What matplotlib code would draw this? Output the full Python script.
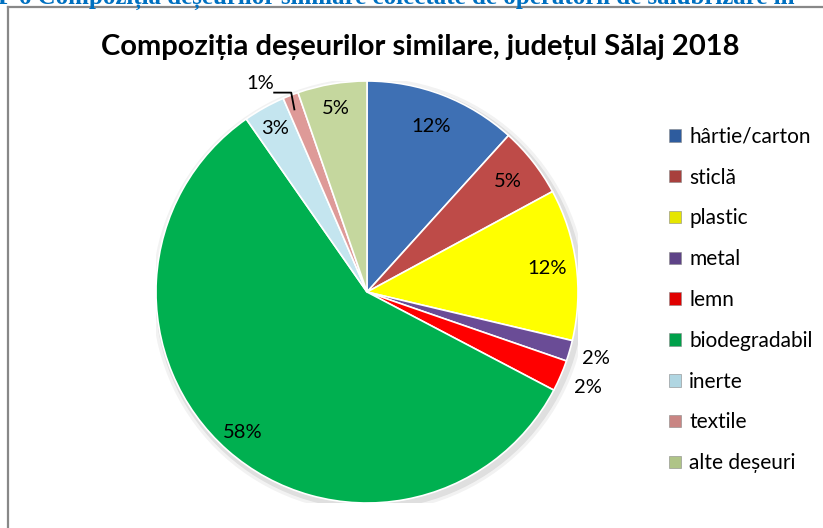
import numpy as np
import matplotlib
matplotlib.use('Agg')
import matplotlib.pyplot as plt
from matplotlib.lines import Line2D

plt.rcParams['font.family'] = ['Lato', 'DejaVu Sans']

# data
categories = ['hârtie/carton', 'sticlă', 'plastic', 'metal', 'lemn',
              'biodegradabil', 'inerte', 'textile', 'alte deșeuri']
shares = [11.7, 5.4, 11.6, 1.6, 2.4, 57.6, 3.2, 1.2, 5.3]
colors = ['#3E70B4', '#BE4B48', '#FFFF00', '#6A4C96', '#FF0000',
          '#00B050', '#C4E5EF', '#DE9A98', '#C5D79E']
legend_colors = ['#2E5C9E', '#A8403D', '#E6E600', '#5E4387', '#E00000',
                 '#00A04A', '#B0D6E2', '#C98583', '#AFC487']

W, H = 823, 528
fig = plt.figure(figsize=(W / 100, H / 100), dpi=100)

# frame (left and top border of the chart object)
fig.add_artist(Line2D([8 / W, 8 / W], [0, 1 - 7 / H], color='#888888', lw=1.6))
fig.add_artist(Line2D([8 / W, 1], [1 - 7 / H, 1 - 7 / H], color='#888888', lw=1.6))

# caption cut off at the top of the crop
fig.text(-2 / W, 1 - 4 / H,
         'F 6 Compoziția deșeurilor similare colectate de operatorii de salubrizare în',
         fontsize=18, fontweight='bold', color='#0070C0', family='Liberation Serif',
         ha='left', va='baseline')

fig.text(420 / W, 1 - 47 / H, 'Compoziția deșeurilor similare, județul Sălaj 2018',
         fontsize=21, fontweight='bold', ha='center', va='center', color='black')

cx, cy, r = 367, 292, 211
ax = fig.add_axes([(cx - r) / W, (H - cy - r) / H, 2 * r / W, 2 * r / H])

# soft shadow
for k, a in [(1.03, 0.05), (1.015, 0.08)]:
    ax.add_patch(plt.Circle((0.012, -0.015), k, color='black', alpha=a, lw=0, zorder=0))

wedges, _ = ax.pie(shares, colors=colors, startangle=90, counterclock=False, radius=1,
                   wedgeprops=dict(edgecolor='white', linewidth=1.2))
for w in wedges:
    w.set_zorder(2)
ax.set_xlim(-1, 1)
ax.set_ylim(-1, 1)
ax.axis('off')

# percentage labels
cum = np.cumsum([0] + shares[:-1])
dist = [0.84, 0.85, 0.86, 1.13, 1.14, 0.89, 0.89, 1.11, 0.88]
for i, v in enumerate(shares):
    mid = 90 - 360 * (cum[i] + v / 2) / 100
    if categories[i] == 'textile':
        mid += 6
    x, y = dist[i] * np.cos(np.radians(mid)), dist[i] * np.sin(np.radians(mid))
    ax.text(x, y, f'{round(v):d}%', ha='center', va='center', fontsize=14.5, zorder=5,
            clip_on=False)

# leader line for textile
t_mid = 90 - 360 * (cum[7] + shares[7] / 2) / 100
ex, ey = 0.95 * np.cos(np.radians(t_mid)), 0.95 * np.sin(np.radians(t_mid))
ax.plot([-0.44, ex - 0.015, ex], [0.945, 0.945, ey - 0.02], color='black', lw=1.3,
        zorder=5, clip_on=False)

handles = [plt.Rectangle((0, 0), 1, 1, facecolor=c, edgecolor='#888888', lw=0.4)
           for c in legend_colors]
fig.legend(handles, categories, loc='center left',
           bbox_to_anchor=(659 / W, 1 - 300 / H), frameon=False, fontsize=15,
           handlelength=0.55, handleheight=0.55, handletextpad=0.4, labelspacing=1.0,
           borderpad=0)

fig.savefig('out.png', dpi=100)
